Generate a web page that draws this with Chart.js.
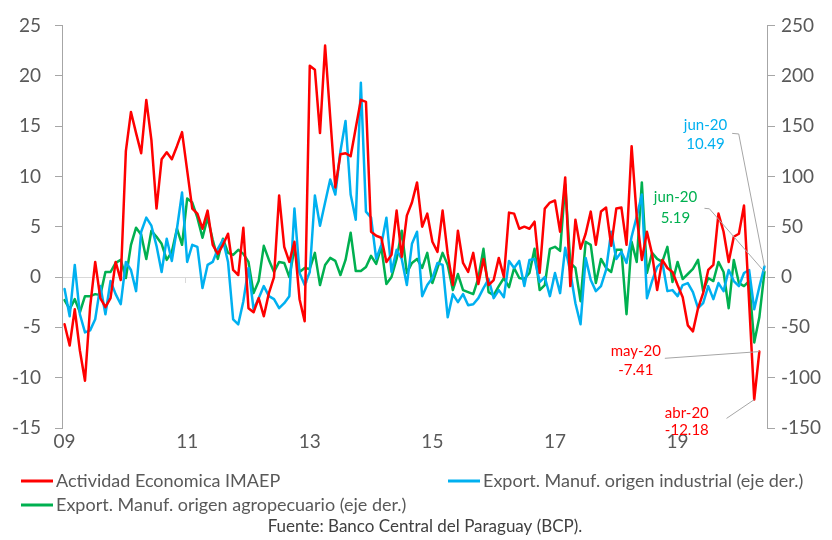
<!DOCTYPE html>
<html><head><meta charset="utf-8">
<script src="https://cdn.jsdelivr.net/npm/chart.js@4.4.0/dist/chart.umd.min.js"></script>
<style>
html,body{margin:0;padding:0;background:#fff;}
canvas{display:block;}
</style></head><body>
<canvas id="c" width="832" height="540"></canvas>
<script>
// ---- DATA ----
const monthNames = ['ene','feb','mar','abr','may','jun','jul','ago','sep','oct','nov','dic'];
const startYear = 2009, nMonths = 138; // ene-09 .. jun-20
const categories = [];
for (let i = 0; i < nMonths; i++) {
  const y = startYear + Math.floor(i / 12);
  categories.push(monthNames[i % 12] + '-' + String(y % 100).padStart(2, '0'));
}
const xTickLabels = ['09','11','13','15','17','19'];
const seriesNames = ['Actividad Economica IMAEP', 'Export. Manuf. origen industrial (eje der.)', 'Export. Manuf. origen agropecuario (eje der.)'];

const imaep = [
 -4.7,-6.8,-3.2,-7.3,-10.3,-3.0,1.5,-2.1,-3.0,-2.1,
 1.5,-0.3,12.5,16.4,14.3,12.3,17.6,13.6,6.8,11.7,
 12.4,11.7,13.0,14.4,10.6,6.8,6.3,4.8,6.6,3.2,
 2.3,3.2,4.3,0.7,0.2,4.9,-3.1,-3.5,-2.1,-3.9,
 -1.6,0.0,8.1,3.0,1.5,3.5,-2.2,-4.4,21.0,20.6,
 14.3,23.0,15.9,8.9,12.2,12.3,12.0,14.8,17.6,17.4,
 4.5,4.1,3.9,1.5,2.2,6.6,2.0,6.1,7.4,9.4,
 5.0,6.3,3.5,2.5,6.6,2.3,-0.8,4.6,1.4,0.5,
 2.4,-0.7,1.8,-0.8,-0.3,1.9,0.0,6.4,6.3,4.8,
 5.0,4.8,5.5,0.4,6.8,7.4,7.6,4.5,9.9,-0.9,
 5.7,2.8,4.3,6.5,3.2,6.5,6.9,3.1,6.8,6.9,
 3.2,13.0,6.0,1.7,4.5,2.3,-1.3,1.7,0.9,0.5,
 -0.8,-2.0,-4.8,-5.4,-3.1,-1.6,0.7,1.2,6.3,4.5,
 1.5,4.0,4.3,7.1,-2.5,-12.18,-7.41,null
];
const expIndustrial = [
 -12,-39,12,-37,-55,-53,-42,-9,-37,-4,
 -17,-27,15,7,-14,45,59,51,31,5,
 38,16,48,84,15,32,30,-11,12,15,
 28,37,15,-42,-47,-24,9,-32,-21,-9,
 -19,-22,-31,-26,-19,68,4,-8,5,81,
 51,74,97,82,125,155,82,57,193,65,
 59,18,32,59,5,27,18,-8,33,45,
 -19,-8,-1,14,12,-40,-17,-25,-17,-28,
 -27,-21,-11,-2,-21,-13,-20,16,9,16,
 -9,17,18,-5,0,-19,4,-16,29,5,
 -26,-47,19,-3,-14,-9,7,45,18,25,
 14,40,60,82,-21,-4,10,15,-14,-13,
 -19,-8,-6,-15,-31,-26,-9,-22,-6,-14,
 7,-4,-9,4,7,-32,-10,10.49
];
const expAgro = [
 -23,-32,-22,-35,-19,-19,-17,-18,5,5,
 14,17,-1,32,49,42,18,46,40,33,
 17,25,48,32,78,74,59,39,59,37,
 18,38,24,22,27,23,15,-16,-4,31,
 17,5,15,14,0,28,5,9,8,24,
 -8,12,19,16,2,17,44,6,6,10,
 21,13,30,-7,0,18,46,4,14,18,
 9,24,-6,9,24,12,-13,3,-13,-15,
 -17,-1,28,-15,-18,-9,-1,-10,9,-1,
 -2,4,28,-13,-8,28,30,26,92,14,
 9,-24,35,32,-6,18,9,5,27,27,
 -37,35,15,94,4,24,18,15,30,-5,
 15,-2,3,8,17,-14,-1,-4,15,5,
 -31,17,-6,-9,-4,-65,-40,5.19
];
const leftTicks = {min:-15, max:25, step:5};
const rightTicks = {min:-150, max:250, step:50};
const sourceText = 'Fuente: Banco Central del Paraguay (BCP).';

// ---- STYLE ----
const FONT = 'Lato, "Open Sans", sans-serif';
const colors = ['#ff0000', '#00b0f0', '#00b050'];
const txtColor = '#595959';
const axisColor = '#a6a6a6';
const zeroColor = '#d9d9d9';

function isYearTick(i) {
  const lab = categories[i];
  return lab.startsWith('ene-') && xTickLabels.includes(lab.slice(4));
}

// annotations: dataset, point index, text x offset, baselines, leader path offsets
const notes = [
  {ds:1, idx:137, dx:-59, b1:-136.3, b2:-117.3, path:[[-32.3,-133.1],[-25.7,-132.5]]},
  {ds:2, idx:137, dx:-89, b1:-70.2, b2:-48.5, path:[[-60,-63.5],[-55,-63]]},
  {ds:0, idx:136, dx:-123.5, b1:4, b2:23, path:[[-94.5,6.7]]},
  {ds:0, idx:135, dx:-67.4, b1:18.8, b2:35.5, path:[[-27.7,18.8]]}
];

const decorPlugin = {
  id: 'decor',
  beforeDatasetsDraw(chart) {
    const ctx = chart.ctx, xs = chart.scales.x, ys = chart.scales.y;
    const y0 = ys.getPixelForValue(0);
    ctx.save();
    ctx.strokeStyle = zeroColor; ctx.lineWidth = 1;
    for (let i = 1; i < categories.length; i++) {
      if (!isYearTick(i)) continue;
      const x = Math.round((xs.getPixelForValue(i - 1) + xs.getPixelForValue(i)) / 2) + 0.5;
      ctx.beginPath(); ctx.moveTo(x, y0); ctx.lineTo(x, y0 + 6); ctx.stroke();
    }
    ctx.restore();
  },
  afterDatasetsDraw(chart) {
    const ctx = chart.ctx;
    ctx.save();
    notes.forEach(n => {
      const meta = chart.getDatasetMeta(n.ds);
      const pt = meta.data[n.idx];
      const px = pt.x, py = pt.y;
      ctx.strokeStyle = axisColor; ctx.lineWidth = 1;
      ctx.beginPath();
      ctx.moveTo(px + n.path[0][0], py + n.path[0][1]);
      for (let k = 1; k < n.path.length; k++) ctx.lineTo(px + n.path[k][0], py + n.path[k][1]);
      ctx.lineTo(px, py);
      ctx.stroke();
      ctx.fillStyle = colors[n.ds];
      ctx.font = '15px ' + FONT;
      ctx.textAlign = 'center'; ctx.textBaseline = 'alphabetic';
      const val = chart.data.datasets[n.ds].data[n.idx];
      ctx.fillText(categories[n.idx], px + n.dx, py + n.b1);
      ctx.fillText(val.toFixed(2), px + n.dx, py + n.b2);
    });
    ctx.restore();
  },
  afterDraw(chart) {
    const ctx = chart.ctx;
    ctx.save();
    const items = [
      {ds:0, x:21, y:481}, {ds:1, x:448, y:481}, {ds:2, x:21, y:505}
    ];
    ctx.font = '18px ' + FONT;
    ctx.textBaseline = 'middle'; ctx.textAlign = 'left';
    items.forEach(it => {
      const ds = chart.data.datasets[it.ds];
      ctx.strokeStyle = ds.borderColor; ctx.lineWidth = 3;
      ctx.beginPath(); ctx.moveTo(it.x, it.y); ctx.lineTo(it.x + 32, it.y); ctx.stroke();
      ctx.fillStyle = txtColor;
      ctx.fillText(ds.label, it.x + 35, it.y);
    });
    ctx.font = '17px ' + FONT;
    ctx.textAlign = 'center';
    ctx.fillStyle = '#404040';
    ctx.fillText(sourceText, 425, 527);
    ctx.restore();
  }
};

const tickFont = {family: FONT, size: 19};

new Chart(document.getElementById('c'), {
  type: 'line',
  data: {
    labels: categories,
    datasets: [
      {label: seriesNames[0], data: imaep, borderColor: colors[0], yAxisID: 'y'},
      {label: seriesNames[1], data: expIndustrial, borderColor: colors[1], yAxisID: 'y1'},
      {label: seriesNames[2], data: expAgro, borderColor: colors[2], yAxisID: 'y1'}
    ]
  },
  options: {
    responsive: false,
    animation: false,
    layout: {padding: {top: 20, left: 0, right: 0, bottom: 0}},
    elements: {
      point: {radius: 0, hoverRadius: 0},
      line: {borderWidth: 2.5, tension: 0, fill: false, borderJoinStyle: 'round', borderCapStyle: 'round'}
    },
    plugins: {legend: {display: false}, tooltip: {enabled: false}},
    scales: {
      x: {
        type: 'category', offset: true,
        border: {display: false},
        grid: {display: false, drawTicks: false},
        ticks: {
          autoSkip: false, maxRotation: 0, minRotation: 0, padding: 2,
          font: tickFont, color: txtColor,
          callback: (v, i) => isYearTick(i) ? categories[i].slice(4) : ''
        },
        afterFit: s => { s.height = 112; }
      },
      y: {
        position: 'left', min: leftTicks.min, max: leftTicks.max,
        ticks: {stepSize: leftTicks.step, font: tickFont, color: txtColor, padding: 14},
        grid: {
          color: c => (c.tick && c.tick.value === 0) ? zeroColor : 'rgba(0,0,0,0)',
          tickColor: axisColor, tickLength: 7, lineWidth: 1
        },
        border: {display: true, color: axisColor},
        afterFit: s => { s.width = 62; }
      },
      y1: {
        position: 'right', min: rightTicks.min, max: rightTicks.max,
        ticks: {stepSize: rightTicks.step, font: tickFont, color: txtColor, padding: 6},
        grid: {drawOnChartArea: false, tickColor: axisColor, tickLength: 8},
        border: {display: true, color: axisColor},
        afterFit: s => { s.width = 65; }
      }
    }
  },
  plugins: [decorPlugin]
});
</script>
</body></html>
